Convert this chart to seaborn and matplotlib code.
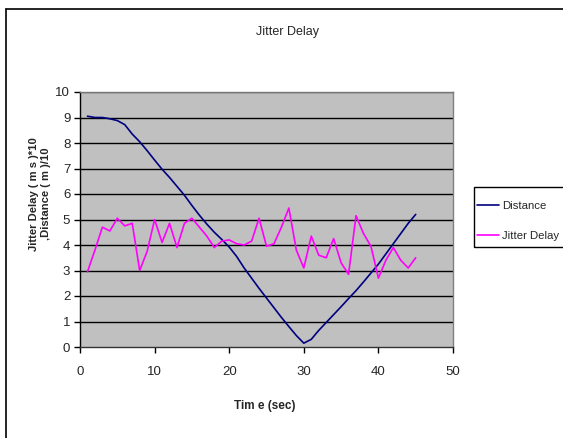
import matplotlib
matplotlib.use("Agg")
import matplotlib.pyplot as plt
from matplotlib.lines import Line2D
from matplotlib.patches import Rectangle
import seaborn as sns
import pandas as pd

time_sec = list(range(1, 46))
distance = [9.05, 9.0, 9.0, 8.95, 8.88, 8.72, 8.35, 8.05, 7.7, 7.33,
            6.97, 6.65, 6.3, 5.95, 5.55, 5.17, 4.82, 4.5, 4.22, 3.92,
            3.55, 3.1, 2.7, 2.3, 1.92, 1.54, 1.16, 0.8, 0.45, 0.15,
            0.3, 0.65, 0.96, 1.27, 1.58, 1.9, 2.21, 2.55, 2.9, 3.25,
            3.65, 4.05, 4.45, 4.85, 5.2]
jitter = [2.95, 3.8, 4.7, 4.55, 5.05, 4.75, 4.85, 3.0, 3.75, 5.0,
          4.1, 4.85, 3.9, 4.85, 5.05, 4.7, 4.35, 3.9, 4.15, 4.2,
          4.05, 4.0, 4.15, 5.05, 3.95, 4.05, 4.7, 5.45, 3.8, 3.1,
          4.35, 3.6, 3.5, 4.25, 3.3, 2.85, 5.15, 4.45, 3.95, 2.7,
          3.4, 3.9, 3.4, 3.1, 3.5]
series_names = ["Distance", "Jitter Delay"]
x_ticks = [0, 10, 20, 30, 40, 50]
y_ticks = list(range(0, 11))

df = pd.DataFrame({
    "Time": time_sec * 2,
    "Value": distance + jitter,
    "Series": [series_names[0]] * len(time_sec) + [series_names[1]] * len(time_sec),
})

sns.set_style("white")
plt.rcParams['font.family'] = ['Liberation Sans', 'DejaVu Sans']

fig = plt.figure(figsize=(5.63, 4.38), dpi=100)
ax = fig.add_axes([80 / 563, 1 - 347 / 438, (453 - 80) / 563, (347 - 92) / 438])
ax.set_facecolor("#C0C0C0")

sns.lineplot(data=df, x="Time", y="Value", hue="Series",
             palette={"Distance": "#000080", "Jitter Delay": "#FF00FF"},
             linewidth=1.2, ax=ax, legend=False, solid_joinstyle="round")

ax.set_xlim(0, 50)
ax.set_ylim(0, 10)
ax.set_xticks(x_ticks)
ax.set_yticks(y_ticks)
ax.set_xticklabels([str(t) for t in x_ticks], fontsize=9.5)
ax.set_yticklabels([str(t) for t in y_ticks], fontsize=9.5)
ax.tick_params(axis="both", direction="out", length=4, width=1, color="black",
               left=True, bottom=True, pad=3)
ax.tick_params(axis="x", pad=10)
for yv in y_ticks[1:]:
    ax.axhline(yv, color="black" if yv < 10 else "#555555", linewidth=1.0, zorder=1)
ax.spines["left"].set_color("black")
ax.spines["bottom"].set_color("#333333")
ax.spines["top"].set_color("#777777")
ax.spines["right"].set_color("#808080")
for s in ax.spines.values():
    s.set_linewidth(1.0)

ax.set_xlabel("")
ax.set_ylabel("")
fig.text(265 / 563, 1 - 406 / 438, "Tim e (sec)", ha="center", va="center",
         fontsize=8.5, fontweight="bold")
fig.text(40 / 563, 1 - 194 / 438, "Jitter Delay ( m s )*10\n,Distance ( m )/10",
         ha="center", va="center", rotation=90, fontsize=8.1, fontweight="bold",
         linespacing=1.15, multialignment="center")
fig.text(287 / 563, 1 - 32 / 438, "Jitter Delay", ha="center", va="center", fontsize=9)

handles = [Line2D([0], [0], color="#000080", lw=1.2),
           Line2D([0], [0], color="#FF00FF", lw=1.2)]
leg = fig.legend(handles, series_names, loc="upper left",
                 bbox_to_anchor=(474 / 563, 1 - 198 / 438), fontsize=8.2,
                 frameon=False, handlelength=1.9, handletextpad=0.3,
                 labelspacing=1.72, borderpad=0.3, borderaxespad=0)

fig.add_artist(Rectangle((474 / 563, 1 - 247 / 438), 0.3, 60 / 438,
                         transform=fig.transFigure, fill=False,
                         edgecolor="black", linewidth=1.0))
fig.add_artist(Line2D([6 / 563, 6 / 563], [-0.05, 1 - 9 / 438], color="black", lw=1.2,
                      transform=fig.transFigure))
fig.add_artist(Line2D([6 / 563, 1.05], [1 - 9 / 438, 1 - 9 / 438], color="black", lw=1.2,
                      transform=fig.transFigure))

fig.savefig("out.png", dpi=100)
